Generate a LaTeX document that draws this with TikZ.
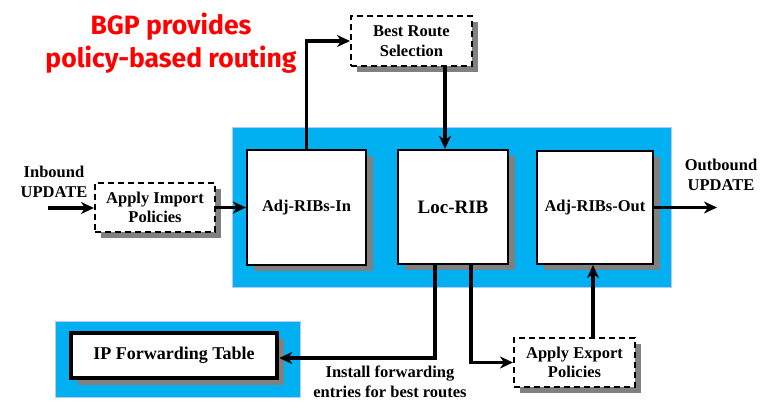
\documentclass[tikz,border=0pt]{standalone}
\usepackage{fontspec}
\setmainfont{Liberation Serif}
\newfontfamily\titlefont{Fira Sans}
\usetikzlibrary{arrows.meta,shadows,calc}
\definecolor{bgpblue}{HTML}{00B0F0}
\definecolor{bgpedge}{HTML}{B8C8FF}
\definecolor{shadowgray}{HTML}{808080}
\begin{document}
\begin{tikzpicture}[x=1pt,y=-1pt,
  every node/.style={font=\fontsize{16.5}{19.5}\selectfont\bfseries, align=center},
  ribbox/.style={draw=black, line width=2.2pt, fill=white, inner sep=0pt,
    drop shadow={shadow xshift=6.5pt, shadow yshift=-6.5pt, fill=shadowgray, opacity=1}},
  polbox/.style={draw=black, line width=2pt, dash pattern=on 6pt off 4pt, fill=white, inner sep=0pt,
    drop shadow={shadow xshift=6pt, shadow yshift=-6pt, fill=shadowgray, opacity=1}},
  plain/.style={draw=none, fill=none, inner sep=0pt},
  arr/.style={line width=3.8pt, -{Stealth[length=13pt,width=12pt,inset=4pt]}},
  panel/.style={fill=bgpblue, draw=bgpedge, line width=0.8pt}
]
\useasboundingbox (0,0) rectangle (771,411);
\fill[white] (0,0) rectangle (771,411);

% blue panels
\draw[panel] (232,127) rectangle (671,287);
\draw[panel] (55,321) rectangle (300,397);

% title
\node[plain, text=red, font=\titlefont\fontsize{26.5}{33}\selectfont\bfseries] (title) at (171,43) {BGP provides\\policy-based routing};

% main boxes
\node[ribbox, minimum width=119pt, minimum height=115pt] (adjin) at (306.5,207.5) {Adj-RIBs-In};
\node[ribbox, minimum width=110pt, minimum height=114pt, font=\fontsize{19}{22}\selectfont\bfseries] (loc) at (453,207) {Loc-RIB};
\node[ribbox, minimum width=116pt, minimum height=113pt] (adjout) at (595,207.5) {Adj-RIBs-Out};

% policy boxes
\node[polbox, minimum width=121pt, minimum height=50pt] (best) at (411.5,41) {Best Route\\Selection};
\node[polbox, minimum width=120pt, minimum height=49pt] (imp) at (155,207.5) {Apply Import\\Policies};
\node[polbox, minimum width=121pt, minimum height=49pt] (exp) at (574.5,362.5) {Apply Export\\Policies};

% IP forwarding table
\node[ribbox, line width=4.5pt, minimum width=206pt, minimum height=45pt, font=\fontsize{18}{21}\selectfont\bfseries,
  drop shadow={shadow xshift=7pt, shadow yshift=-7pt, fill=shadowgray, opacity=1}] (ipf) at (174,355.5) {IP Forwarding Table};

% labels
\node[plain] (inlbl) at (54,182) {Inbound\\UPDATE};
\node[plain] (outlbl) at (721,175) {Outbound\\UPDATE};
\node[plain] (instlbl) at (390,382) {Install forwarding\\entries for best routes};

\coordinate (instart) at (48,208);
\coordinate (outend) at (717,207.5);

% connectors
\draw[arr] (instart) -- (imp.west |- instart);
\draw[arr] (imp.east) -- (adjin.west);
\draw[arr] (adjin.north) -- (adjin.north |- best.west) -- (best.west);
\draw[arr] ([xshift=33.5pt]best.south) -- ([xshift=33.5pt]best.south |- loc.north);
\draw[arr] (adjout.east) -- (outend);
\draw[arr] ([xshift=-18pt]loc.south) |- ([yshift=-2.5pt]ipf.east);
\draw[arr] ([xshift=18pt]loc.south) |- (exp.west);
\draw[arr] ([xshift=18.5pt]exp.north) -- ([xshift=18.5pt]exp.north |- adjout.south);
\end{tikzpicture}
\end{document}
